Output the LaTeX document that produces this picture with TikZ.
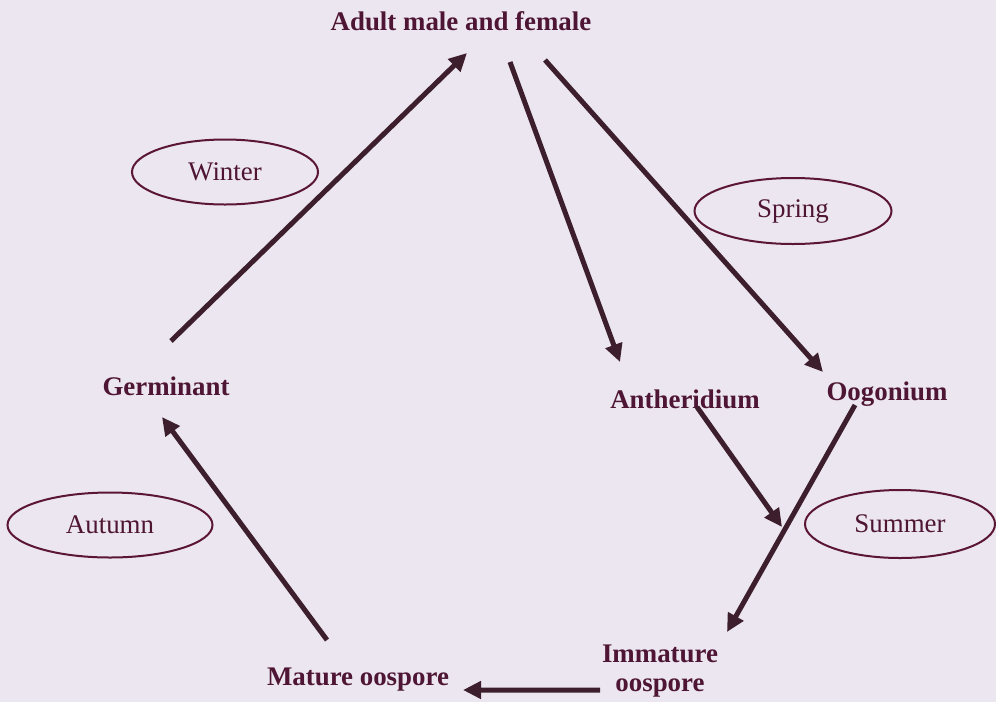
\documentclass[tikz,border=0pt]{standalone}
\usepackage{fontspec}
\setmainfont{Liberation Serif}
\usetikzlibrary{shapes.geometric,arrows.meta}
\definecolor{bgcol}{RGB}{236,230,240}
\definecolor{txtcol}{RGB}{78,22,52}
\definecolor{ellcol}{RGB}{90,22,50}
\definecolor{arrcol}{RGB}{60,30,45}
\begin{document}
\begin{tikzpicture}[x=0.2mm,y=-0.2mm,
  stage/.style={font=\fontsize{15.3}{16.5}\selectfont\bfseries, text=txtcol, inner sep=2pt},
  season/.style={draw=ellcol, line width=0.4mm, ellipse, inner sep=0pt, font=\fontsize{15.3}{16.5}\selectfont, text=txtcol},
  arr/.style={draw=arrcol, line width=1mm, -{Triangle[length=3.6mm,width=3.4mm]}}]
\fill[bgcol] (0,0) rectangle (996,702);
\useasboundingbox (0,0) rectangle (996,702);
% life stages
\node[stage, anchor=base] (adult) at (461,30) {Adult male and female};
\node[stage, anchor=base] (germ) at (166,395) {Germinant};
\node[stage, anchor=base] (anth) at (685,408) {Antheridium};
\node[stage, anchor=base] (oog) at (887,400) {Oogonium};
\node[stage, anchor=base] (mat) at (358,685) {Mature oospore};
\node[stage, align=center] (imm) at (660,671.5) {Immature\\oospore};
% seasons
\node[season, minimum width=37.2mm, minimum height=13mm] (winter) at (225,172) {Winter};
\node[season, minimum width=39.4mm, minimum height=13.2mm] (spring) at (793,211) {Spring};
\node[season, minimum width=41mm, minimum height=13mm] (autumn) at (110,525) {Autumn};
\node[season, minimum width=38mm, minimum height=13.6mm] (summer) at (900,524) {Summer};
% cycle
\draw[arr] ([shift={(5,-54)}]germ.base) -- ([shift={(6,23)}]adult.base);
\draw[arr] ([shift={(49,32)}]adult.base) -- ([shift={(-65,-46)}]anth.base);
\draw[arr] ([shift={(84,30)}]adult.base) -- ([shift={(-64,-28)}]oog.base);
\coordinate (meet) at (782,527);
\draw[arr] ([shift={(12,-1)}]anth.base) -- (meet);
\draw[arr] ([shift={(-32,5)}]oog.base) -- ([shift={(67,-39.5)}]imm.center);
\draw[arr] ([shift={(-60,18.5)}]imm.center) -- ([shift={(105,5)}]mat.base);
\draw[arr] ([shift={(-31,-45)}]mat.base) -- ([shift={(-4,22)}]germ.base);
\end{tikzpicture}
\end{document}
